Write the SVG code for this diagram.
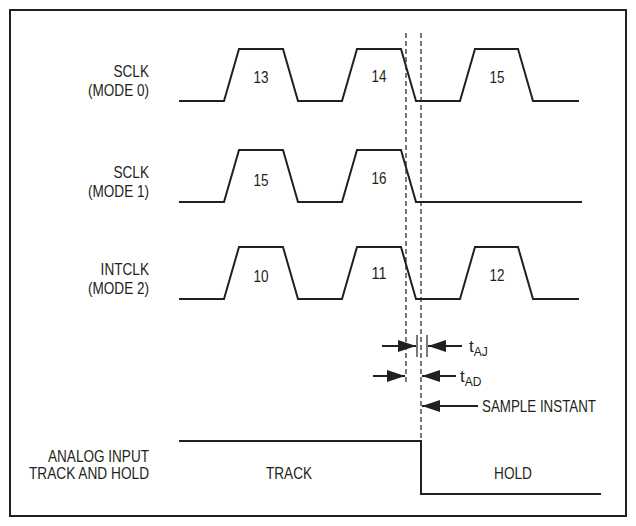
<svg xmlns="http://www.w3.org/2000/svg" width="636" height="526" viewBox="0 0 636 526">
<defs>
<style>
.frame{fill:none;stroke:#231f20;stroke-width:2}
.wave{fill:none;stroke:#231f20;stroke-width:2;stroke-linejoin:miter}
.dash{fill:none;stroke:#231f20;stroke-width:1.2;stroke-dasharray:5,3}
.arr{fill:none;stroke:#231f20;stroke-width:2;marker-end:url(#head)}
.bar{stroke:#231f20;stroke-width:1.2}
text{font-family:"Liberation Sans Narrow","Liberation Sans",Arial,sans-serif;font-size:17px;fill:#231f20}
.r{text-anchor:end}
.c{text-anchor:middle}
.sub{font-size:12px}
</style>
<marker id="head" markerUnits="userSpaceOnUse" markerWidth="18" markerHeight="12" refX="18" refY="6" orient="auto">
<path d="M0,0 L18,6 L0,12 Z" fill="#231f20"/>
</marker>
</defs>
<rect width="636" height="526" fill="#ffffff"/>
<rect class="frame" x="10" y="10" width="616" height="506"/>

<g id="sclk-mode0">
<text class="r" x="149" y="77" textLength="35.5" lengthAdjust="spacingAndGlyphs">SCLK</text>
<text class="r" x="149" y="96" textLength="61" lengthAdjust="spacingAndGlyphs">(MODE 0)</text>
<path class="wave" d="M179,101 H224 L239,49 H283 L298,101 H342 L357,49 H401 L416,101 H460 L475,49 H518 L533,101 H579"/>
<text class="c" x="261" y="83" textLength="15" lengthAdjust="spacingAndGlyphs">13</text>
<text class="c" x="379" y="82" textLength="15" lengthAdjust="spacingAndGlyphs">14</text>
<text class="c" x="497" y="83" textLength="15" lengthAdjust="spacingAndGlyphs">15</text>
</g>

<g id="sclk-mode1">
<text class="r" x="149" y="178" textLength="35.5" lengthAdjust="spacingAndGlyphs">SCLK</text>
<text class="r" x="149" y="197" textLength="61" lengthAdjust="spacingAndGlyphs">(MODE 1)</text>
<path class="wave" d="M179,202 H224 L239,150 H283 L298,202 H342 L357,150 H401 L416,202 H582"/>
<text class="c" x="261" y="186" textLength="15" lengthAdjust="spacingAndGlyphs">15</text>
<text class="c" x="379" y="184" textLength="15" lengthAdjust="spacingAndGlyphs">16</text>
</g>

<g id="intclk-mode2">
<text class="r" x="149" y="275" textLength="48.4" lengthAdjust="spacingAndGlyphs">INTCLK</text>
<text class="r" x="149" y="294" textLength="61" lengthAdjust="spacingAndGlyphs">(MODE 2)</text>
<path class="wave" d="M179,299 H224 L239,247 H283 L298,299 H342 L357,247 H401 L416,299 H460 L475,247 H518 L533,299 H579"/>
<text class="c" x="261" y="282" textLength="15" lengthAdjust="spacingAndGlyphs">10</text>
<text class="c" x="379" y="279" textLength="15" lengthAdjust="spacingAndGlyphs">11</text>
<text class="c" x="497" y="281" textLength="15" lengthAdjust="spacingAndGlyphs">12</text>
</g>

<g id="track-hold">
<text class="r" x="149" y="462" textLength="101" lengthAdjust="spacingAndGlyphs">ANALOG INPUT</text>
<text class="r" x="149" y="479" textLength="120" lengthAdjust="spacingAndGlyphs">TRACK AND HOLD</text>
<path class="wave" d="M179,441 H421 V494 H601"/>
<text class="c" x="289" y="479" textLength="46" lengthAdjust="spacingAndGlyphs">TRACK</text>
<text class="c" x="513" y="479" textLength="38" lengthAdjust="spacingAndGlyphs">HOLD</text>
</g>

<g id="timing-labels">
<text x="469" y="352">t<tspan class="sub" dy="4">AJ</tspan></text>
<text x="460" y="382">t<tspan class="sub" dy="4">AD</tspan></text>
<text x="482" y="412" textLength="114" lengthAdjust="spacingAndGlyphs">SAMPLE INSTANT</text>
</g>

<g id="connectors">
<line class="dash" x1="406" y1="33" x2="406" y2="383"/>
<line class="dash" x1="421" y1="33" x2="421" y2="441"/>
<line class="bar" x1="417" y1="335" x2="417" y2="357"/>
<line class="bar" x1="427" y1="335" x2="427" y2="357"/>
<line class="arr" x1="382" y1="346" x2="416" y2="346"/>
<line class="arr" x1="462" y1="346" x2="428" y2="346"/>
<line class="arr" x1="373" y1="376" x2="405" y2="376"/>
<line class="arr" x1="456" y1="376" x2="422" y2="376"/>
<line class="arr" x1="478" y1="406" x2="422" y2="406"/>
</g>
</svg>
